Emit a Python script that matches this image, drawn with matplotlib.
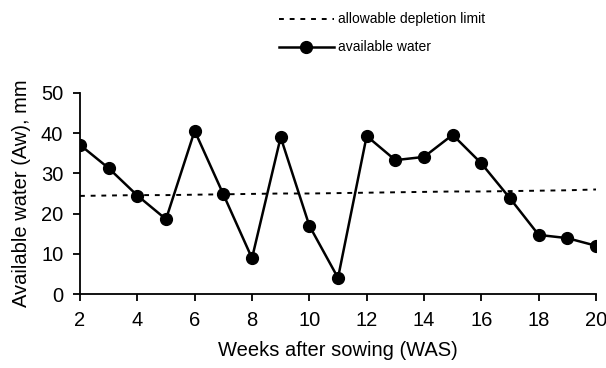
import matplotlib.pyplot as plt
import numpy as np

plt.rcParams['font.family'] = ['Liberation Sans', 'DejaVu Sans']

weeks = [2, 3, 4, 5, 6, 7, 8, 9, 10, 11, 12, 13, 14, 15, 16, 17, 18, 19, 20]
available_water = [37.1, 31.3, 24.5, 18.6, 40.6, 24.8, 8.9, 39.0, 17.0, 4.0,
                   39.3, 33.3, 34.1, 39.6, 32.5, 23.8, 14.7, 13.9, 12.0]
depletion_limit = [24.4, 24.5, 24.6, 24.6, 24.7, 24.8, 24.9, 25.0, 25.0, 25.1,
                   25.2, 25.3, 25.4, 25.5, 25.5, 25.6, 25.7, 25.8, 26.0]
xticks = [2, 4, 6, 8, 10, 12, 14, 16, 18, 20]
yticks = [0, 10, 20, 30, 40, 50]

fig = plt.figure(figsize=(6.06, 3.68), dpi=100)
ax = fig.add_axes([80 / 606, 74 / 368, 516 / 606, 201 / 368])

ax.plot(weeks, depletion_limit, color='black', linestyle=(0, (2.5, 3)), linewidth=1.4,
        label='allowable depletion limit')
ax.plot(weeks, available_water, color='black', linewidth=1.8, marker='o',
        markersize=8.5, label='available water')

ax.set_xlim(2, 20)
ax.set_ylim(0, 50)
ax.set_xticks(xticks)
ax.set_yticks(yticks)
ax.spines['top'].set_visible(False)
ax.spines['right'].set_visible(False)
ax.spines['left'].set_linewidth(1.3)
ax.spines['bottom'].set_linewidth(1.3)
ax.tick_params(direction='out', length=5, width=1.3, labelsize=14.5, pad=7)
for sp in ['left', 'bottom']:
    ax.spines[sp].set_clip_on(False)

ax.set_xlabel('Weeks after sowing (WAS)', fontsize=14.5, labelpad=8)
ax.set_ylabel('Available water (Aw), mm', fontsize=14.5, labelpad=7)

fig.legend(loc='upper left', bbox_to_anchor=(266 / 606, 1.0), frameon=False,
           fontsize=10, handlelength=4.0, handletextpad=0.3, labelspacing=1.0)

fig.savefig('out.png', dpi=100)
